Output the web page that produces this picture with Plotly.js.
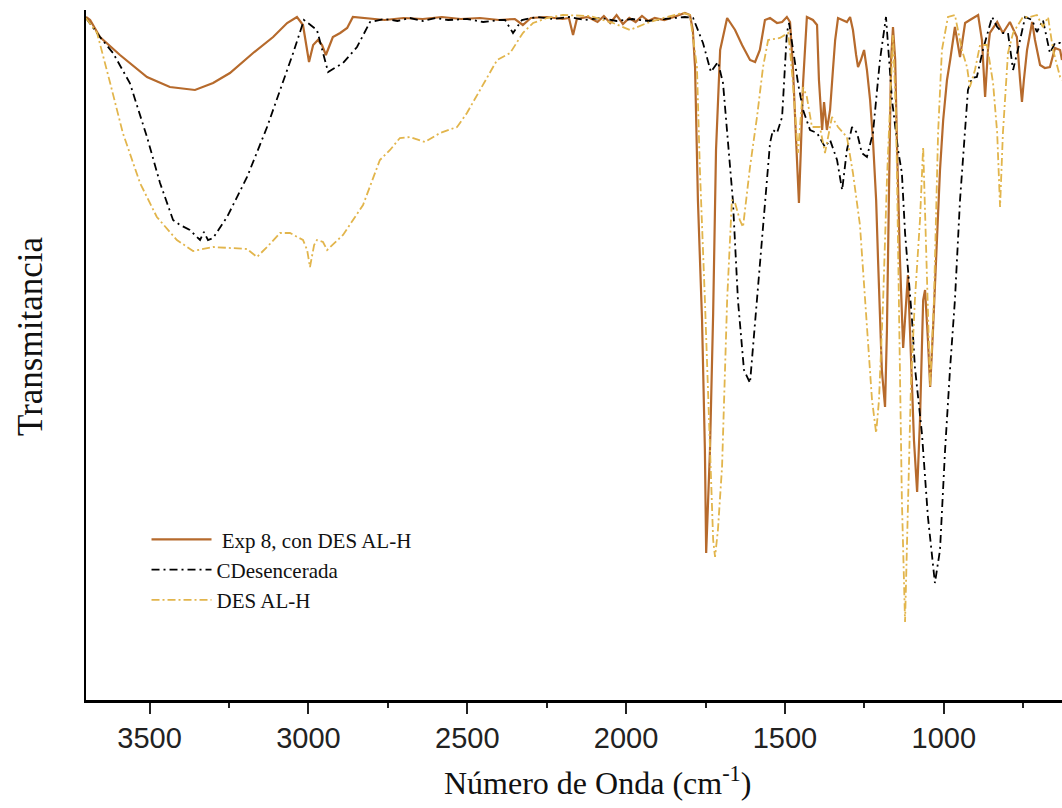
<!DOCTYPE html>
<html>
<head>
<meta charset="utf-8">
<script src="https://cdn.plot.ly/plotly-3.0.1.min.js"></script>
<style>html,body{margin:0;padding:0;background:#fff;}#chart{width:1062px;height:808px;}</style>
</head>
<body>
<div id="chart"></div>
<script>
// Exp 8, con DES AL-H (wavenumber cm-1, transmittance a.u.)
const expW = [3700,3687,3656,3593,3508,3436,3357,3300,3247,3174,3111,3067,3036,3017,2998,2985,2970,2957,2945,2923,2900,2878,2860,2822,2760,2700,2640,2580,2520,2460,2400,2350,2325,2300,2250,2200,2180,2167,2155,2120,2090,2070,2050,2030,2010,1990,1970,1950,1930,1910,1880,1850,1815,1799,1790,1783,1774,1761,1752,1748,1736,1726,1717,1704,1682,1657,1635,1610,1594,1579,1563,1547,1525,1509,1494,1484,1475,1465,1456,1450,1443,1431,1412,1399,1393,1383,1377,1368,1358,1349,1342,1333,1317,1305,1295,1286,1276,1270,1261,1251,1242,1232,1223,1213,1207,1201,1195,1185,1179,1172,1166,1160,1153,1147,1138,1128,1119,1113,1103,1094,1084,1075,1065,1059,1050,1043,1034,1021,1012,1002,990,980,965,949,933,918,908,892,880,870,861,855,832,814,792,770,760,754,748,738,722,713,697,682,666,650,634,628];
const expT = [68.3,68.0,66.3,64.5,62.3,61.3,61.0,61.7,62.7,64.7,66.3,67.7,68.3,67.5,63.8,65.5,66.0,65.5,64.5,66.3,66.7,67.2,68.3,68.2,68.0,68.2,68.1,68.3,68.1,68.2,68.0,68.1,67.5,68.2,68.3,68.1,68.2,66.5,68.1,68.3,67.8,68.4,67.7,68.5,67.6,68.2,67.8,68.4,67.9,68.2,68.0,68.3,68.7,68.5,67.0,63.3,50.0,38.0,25.0,14.7,25.0,38.7,55.0,65.0,68.2,67.0,65.5,64.0,63.8,65.0,68.0,68.2,67.7,67.8,68.3,67.8,63.3,56.0,49.7,55.0,61.7,68.3,68.0,67.5,62.0,57.0,59.8,57.0,59.0,63.0,66.0,68.2,68.0,67.8,68.3,67.0,64.5,63.3,64.0,65.0,63.0,60.0,56.0,50.0,44.0,38.0,33.0,29.3,37.0,52.0,64.0,67.3,64.0,55.0,44.0,35.2,40.0,42.5,34.0,26.0,20.8,28.0,40.0,41.0,36.0,31.3,37.0,46.0,53.0,58.0,62.0,64.0,67.3,64.3,67.7,68.0,68.2,68.5,66.0,60.3,65.0,66.7,67.8,66.7,67.8,66.3,62.0,59.8,62.0,65.0,67.8,66.0,63.5,63.2,63.3,65.2,65.0,64.0];

// CDesencerada
const cdW = [3700,3656,3615,3562,3508,3467,3426,3404,3373,3341,3329,3316,3300,3256,3193,3130,3089,3048,3014,2973,2938,2891,2847,2806,2760,2720,2680,2640,2600,2560,2500,2450,2400,2381,2356,2328,2280,2230,2180,2130,2080,2030,1980,1930,1880,1840,1815,1789,1758,1733,1711,1695,1679,1664,1648,1629,1610,1588,1563,1547,1538,1525,1509,1494,1487,1475,1459,1443,1421,1399,1374,1358,1336,1320,1305,1289,1273,1258,1242,1223,1201,1182,1163,1144,1132,1122,1113,1100,1091,1069,1050,1028,1012,996,980,965,949,933,924,911,896,877,848,832,814,798,782,767,744,722,707,688,666,650,634,628];
const cdT = [68.2,66.3,64.7,61.7,56.3,51.7,48.0,47.5,47.0,46.0,46.8,46.0,46.2,48.3,52.3,57.3,61.0,64.7,68.0,67.0,62.8,63.7,65.3,67.8,68.1,67.9,68.2,67.9,68.2,68.0,68.1,67.8,68.0,68.0,66.7,68.0,68.3,68.1,68.3,68.0,68.2,67.9,68.1,67.9,68.1,68.2,68.3,68.2,65.7,62.8,63.8,61.7,56.0,50.0,40.0,33.0,31.7,40.0,50.0,55.7,57.0,56.7,58.3,66.7,67.7,65.0,61.7,59.0,57.0,56.7,55.3,56.0,54.0,51.0,55.0,57.3,56.7,54.7,54.3,56.7,64.0,68.3,60.0,55.0,52.7,46.7,43.0,38.0,33.3,26.7,18.3,11.7,15.0,25.0,33.3,40.0,50.0,56.7,61.0,62.2,62.3,65.0,68.3,67.3,66.7,66.7,63.0,65.0,68.3,68.0,66.8,68.0,64.7,65.7,65.7,65.6];

// DES AL-H
const desW = [3700,3665,3624,3584,3530,3477,3414,3363,3300,3247,3193,3162,3130,3089,3058,3017,3004,2995,2982,2973,2954,2941,2891,2828,2775,2743,2712,2680,2649,2633,2586,2532,2501,2460,2406,2365,2325,2293,2249,2199,2114,2041,1988,1934,1884,1821,1799,1777,1768,1752,1736,1726,1720,1711,1698,1689,1682,1667,1657,1642,1632,1610,1588,1569,1553,1516,1490,1484,1475,1459,1443,1431,1415,1390,1374,1352,1333,1305,1286,1264,1242,1226,1213,1204,1191,1179,1166,1160,1150,1141,1132,1122,1113,1103,1091,1075,1065,1056,1043,1031,1018,1006,987,965,943,927,918,902,886,864,845,832,823,814,798,782,751,729,707,688,672,656,634,628];
const desT = [68.2,66.7,61.7,56.7,51.7,48.3,46.0,44.9,45.3,45.2,45.1,44.3,45.3,46.7,46.7,46.0,45.0,43.3,45.5,46.0,45.8,45.0,46.5,49.5,54.0,55.0,56.2,56.3,56.0,55.8,56.7,57.3,58.7,61.0,64.0,64.7,66.7,67.7,68.2,68.5,68.4,67.7,67.0,67.7,68.2,68.7,68.5,63.3,53.3,40.0,25.0,16.0,14.3,17.0,23.3,33.3,40.0,50.0,49.7,48.0,47.3,53.3,58.3,63.3,66.0,66.2,66.7,65.0,61.7,54.7,61.3,60.3,57.3,57.3,54.7,58.3,57.3,56.3,52.7,47.5,37.5,30.0,26.7,30.0,40.0,52.0,62.0,66.5,58.0,40.0,20.0,7.8,20.0,32.0,40.0,48.0,55.3,45.0,31.3,40.0,56.7,65.0,68.3,68.5,65.0,63.3,61.3,63.0,65.5,65.5,61.7,56.7,49.3,56.7,64.7,66.7,68.3,68.3,68.5,67.3,68.3,65.0,62.3,62.0];

const xTickVals = [3500,3000,2500,2000,1500,1000];
const xTickText = ['3500','3000','2500','2000','1500','1000'];
const xTitle = 'Número de Onda (cm<sup>-1</sup>)';
const yTitle = 'Transmitancia';

const traces = [
  {x: expW, y: expT, name: ' Exp 8, con DES AL-H', type: 'scatter', mode: 'lines',
   line: {color: '#B66A2C', width: 2.2}},
  {x: cdW, y: cdT, name: 'CDesencerada', type: 'scatter', mode: 'lines',
   line: {color: '#000000', width: 1.8, dash: '8px,4px,2px,4px'}},
  {x: desW, y: desT, name: 'DES AL-H', type: 'scatter', mode: 'lines',
   line: {color: '#E2B54C', width: 1.8, dash: '8px,3px,2px,3px'}}
];

const layout = {
  width: 1062, height: 808,
  margin: {l: 86, r: 0, t: 10, b: 108},
  paper_bgcolor: '#ffffff', plot_bgcolor: '#ffffff',
  showlegend: true,
  legend: {x: 0.062, y: 0.262, xanchor: 'left', yanchor: 'top',
    font: {family: 'Liberation Serif', size: 21, color: '#111'},
    bgcolor: 'rgba(0,0,0,0)', itemwidth: 60, tracegroupgap: 0},
  xaxis: {
    range: [3700, 628], showgrid: false, zeroline: false,
    showline: true, linecolor: '#000', linewidth: 2.5, mirror: false,
    tickmode: 'array', tickvals: xTickVals, ticktext: xTickText,
    ticks: 'outside', ticklen: 11, tickwidth: 2, tickcolor: '#222',
    tickfont: {family: 'Liberation Sans', size: 29, color: '#222'},
    minor: {dtick: 250, ticks: 'outside', ticklen: 5, tickwidth: 2, tickcolor: '#222', showgrid: false}
  },
  yaxis: {
    range: [0, 69], showgrid: false, zeroline: false,
    showline: true, linecolor: '#000', linewidth: 2.5,
    showticklabels: false, ticks: ''
  },
  annotations: [
    {text: xTitle, xref: 'paper', yref: 'paper', x: 0.5236, y: -0.118,
     xanchor: 'center', yanchor: 'middle', showarrow: false,
     font: {family: 'Liberation Serif', size: 32, color: '#111'}},
    {text: yTitle, xref: 'paper', yref: 'paper', x: -0.0574, y: 0.5275,
     xanchor: 'center', yanchor: 'middle', textangle: -90, showarrow: false,
     font: {family: 'Liberation Serif', size: 35, color: '#111'}}
  ]
};

Plotly.newPlot('chart', traces, layout, {displayModeBar: false, staticPlot: true});
</script>
</body>
</html>
